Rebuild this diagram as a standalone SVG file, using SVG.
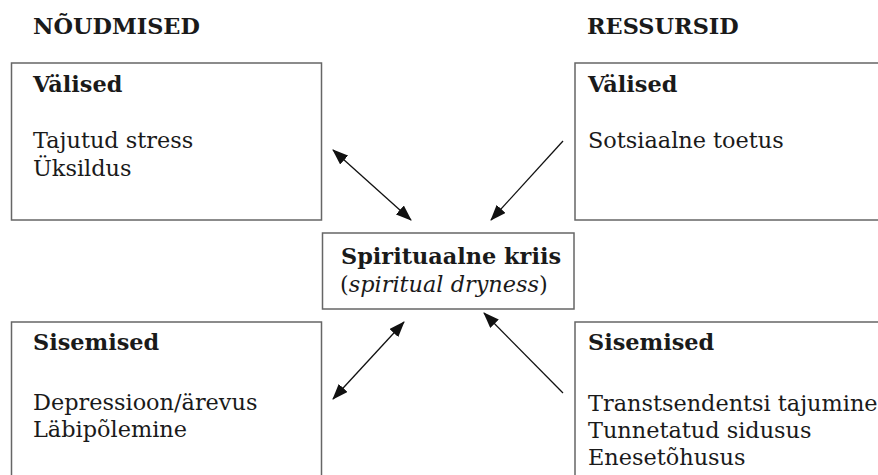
<svg xmlns="http://www.w3.org/2000/svg" width="878" height="475" viewBox="0 0 878 475">
<defs>
<style>
text{font-family:"DejaVu Serif","Liberation Serif",serif;font-size:22.4px;fill:#1a1a1a}
.b{font-weight:bold}
.i{font-style:italic}
.box{fill:#fff;stroke:#666;stroke-width:1.5}
.c{stroke:#111;stroke-width:1.3;fill:none}
</style>
<marker id="ah" viewBox="0 0 16 12" refX="15" refY="6" markerWidth="16" markerHeight="12" markerUnits="userSpaceOnUse" orient="auto-start-reverse">
<path d="M0,0 L16,6 L0,12 Z" fill="#111"/>
</marker>
</defs>
<rect width="878" height="475" fill="#fff"/>
<text class="b" x="33" y="34">NÕUDMISED</text>
<text class="b" x="587" y="34">RESSURSID</text>
<g id="demand-ext">
<rect class="box" x="11.5" y="63" width="310" height="157"/>
<text class="b" x="33" y="92">Välised</text>
<text x="33" y="148">Tajutud stress</text>
<text x="33" y="176">Üksildus</text>
</g>
<g id="resource-ext">
<rect class="box" x="575" y="63" width="310" height="157"/>
<text class="b" x="588" y="92">Välised</text>
<text x="588" y="148">Sotsiaalne toetus</text>
</g>
<g id="crisis">
<rect class="box" x="322.5" y="233" width="251.5" height="76"/>
<text class="b" x="341" y="264">Spirituaalne kriis</text>
<text x="340" y="292">(<tspan class="i">spiritual dryness</tspan>)</text>
</g>
<g id="demand-int">
<rect class="box" x="11.5" y="322" width="310" height="160"/>
<text class="b" x="33" y="350">Sisemised</text>
<text x="33" y="410">Depressioon/ärevus</text>
<text x="33" y="437">Läbipõlemine</text>
</g>
<g id="resource-int">
<rect class="box" x="575" y="322" width="310" height="160"/>
<text class="b" x="588" y="350">Sisemised</text>
<text x="588" y="411">Transtsendentsi tajumine</text>
<text x="588" y="438">Tunnetatud sidusus</text>
<text x="588" y="465">Enesetõhusus</text>
</g>
<g id="connectors">
<line class="c" x1="333" y1="150" x2="411" y2="220" marker-start="url(#ah)" marker-end="url(#ah)"/>
<line class="c" x1="563" y1="141" x2="491" y2="220" marker-end="url(#ah)"/>
<line class="c" x1="404" y1="322" x2="333" y2="399" marker-start="url(#ah)" marker-end="url(#ah)"/>
<line class="c" x1="563" y1="393" x2="484" y2="313" marker-end="url(#ah)"/>
</g>
</svg>
